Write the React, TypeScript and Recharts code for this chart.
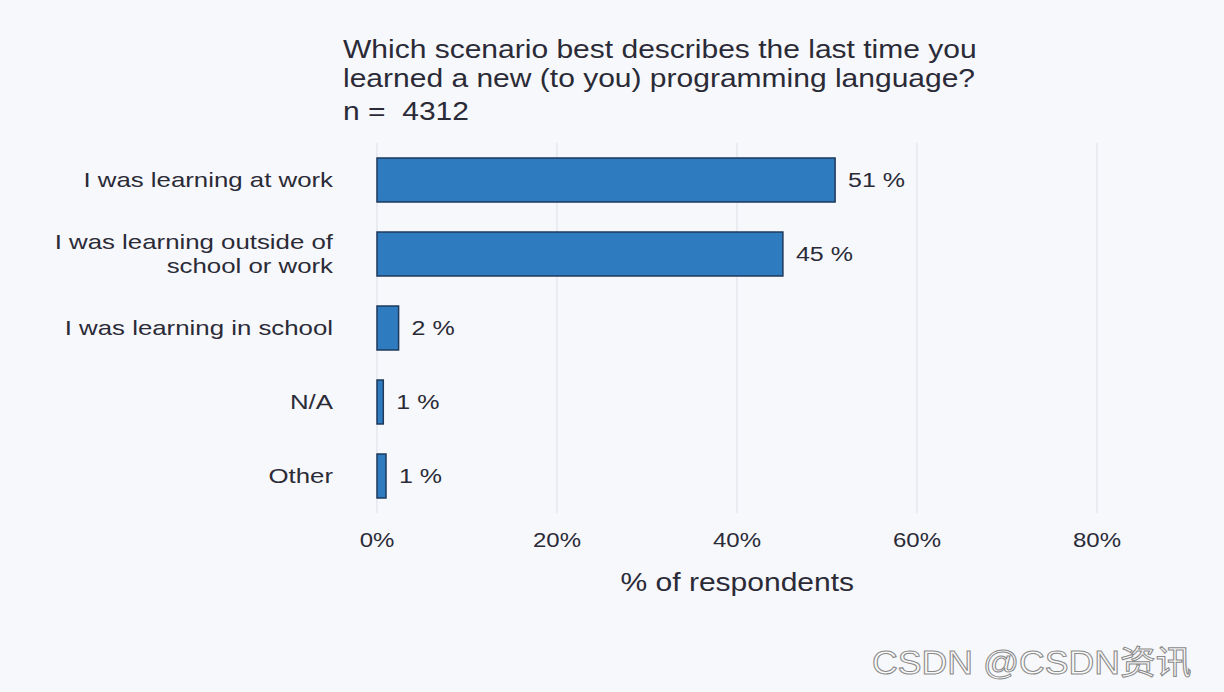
import React from "react";
import { Bar, BarChart, CartesianGrid, LabelList, XAxis, YAxis } from "recharts";

const categories = [
  "I was learning at work",
  "I was learning outside of\nschool or work",
  "I was learning in school",
  "N/A",
  "Other",
];
const shares = [50.9, 45.1, 2.4, 0.7, 1.0];
const xTicks = [0, 20, 40, 60, 80];

const data = categories.map((name, i) => ({ name, value: shares[i] }));

const FONT = "'Liberation Sans', Arial, sans-serif";
const TEXT = "#2b2b38";
const SX = 1.2;

function CategoryTick(props: any) {
  const { x, y, payload } = props;
  const lines = String(payload.value).split("\n");
  const lh = 24;
  const start = -((lines.length - 1) * lh) / 2;
  return (
    <text
      transform={`translate(${x},${y}) scale(${SX + 0.03},1)`}
      textAnchor="end"
      fontSize={21}
      fill={TEXT}
      fontFamily={FONT}
    >
      {lines.map((l, i) => (
        <tspan key={i} x={0} dy={i === 0 ? start + 7 : lh}>
          {l}
        </tspan>
      ))}
    </text>
  );
}

function PercentTick(props: any) {
  const { x, y, payload } = props;
  return (
    <text
      transform={`translate(${x},${y + 14}) scale(${SX},1)`}
      textAnchor="middle"
      fontSize={20}
      fill={TEXT}
      fontFamily={FONT}
    >
      {`${payload.value}%`}
    </text>
  );
}

function ValueLabel(props: any) {
  const { x, y, width, height, value } = props;
  return (
    <text
      transform={`translate(${x + width + 13},${y + height / 2 + 7}) scale(${SX + 0.05},1)`}
      textAnchor="start"
      fontSize={20}
      fill={TEXT}
      fontFamily={FONT}
    >
      {`${Math.round(Number(value))} %`}
    </text>
  );
}

export default function App() {
  return (
    <div
      style={{
        position: "fixed",
        left: 0,
        top: 0,
        width: 1224,
        height: 692,
        background: "#f7f8fb",
        fontFamily: FONT,
        overflow: "hidden",
      }}
    >
      <div
        style={{
          position: "absolute",
          left: 343,
          top: 35,
          fontSize: 25,
          lineHeight: "29px",
          color: TEXT,
          whiteSpace: "nowrap",
          transform: `scale(${SX},1)`,
          transformOrigin: "left top",
        }}
      >
        <div>Which scenario best describes the last time you</div>
        <div>learned a new (to you) programming language?</div>
        <div style={{ marginTop: 4 }}>n = &nbsp;4312</div>
      </div>
      <BarChart
        width={1224}
        height={692}
        data={data}
        layout="vertical"
        margin={{ top: 143, right: 127, bottom: 119, left: 0 }}
        barSize={44}
        style={{ position: "absolute", left: 0, top: 0 }}
      >
        <CartesianGrid horizontal={false} stroke="#dcdfe6" />
        <XAxis
          type="number"
          domain={[0, 80]}
          ticks={xTicks}
          axisLine={false}
          tickLine={false}
          tickSize={0}
          tickMargin={20}
          tick={<PercentTick />}
          height={60}
        />
        <YAxis
          type="category"
          dataKey="name"
          width={377}
          axisLine={false}
          tickLine={false}
          tickSize={0}
          tickMargin={44}
          tick={<CategoryTick />}
          interval={0}
        />
        <Bar dataKey="value" fill="#2e7bbf" stroke="#1f3a5c" strokeWidth={1.5} isAnimationActive={false}>
          <LabelList dataKey="value" content={<ValueLabel />} />
        </Bar>
      </BarChart>
      <div
        style={{
          position: "absolute",
          left: 377,
          width: 720,
          top: 568,
          textAlign: "center",
          fontSize: 25,
          color: TEXT,
        }}
      >
        <span style={{ display: "inline-block", transform: `scale(${SX},1)` }}>% of respondents</span>
      </div>
      <div
        style={{
          position: "absolute",
          left: 872,
          top: 636,
          fontSize: 33,
          color: "#fafafa",
          WebkitTextStroke: "1px #8a8a8a",
          whiteSpace: "nowrap",
          transform: "scale(1.08,1)",
          transformOrigin: "left top",
          fontFamily: "'Liberation Sans', 'Noto Sans CJK SC', sans-serif",
        }}
      >
        CSDN @CSDN资讯
      </div>
    </div>
  );
}
